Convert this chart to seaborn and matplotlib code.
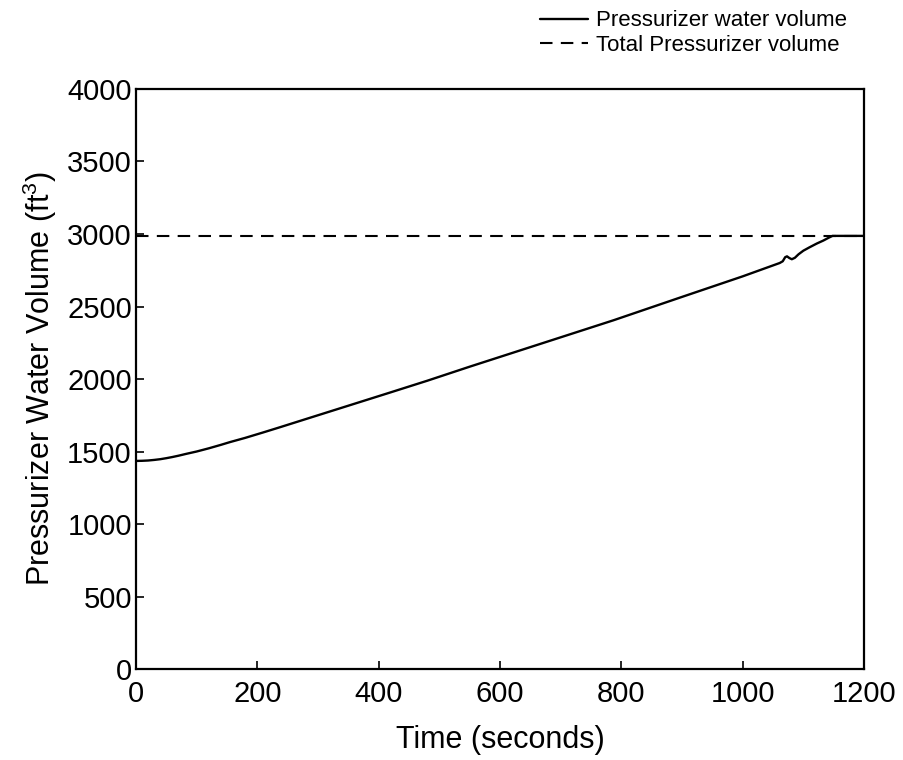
import matplotlib
matplotlib.use("Agg")
import matplotlib.pyplot as plt
import seaborn as sns
import pandas as pd

time_s = [0, 10, 20, 30, 40, 50, 60, 70, 83, 100, 120, 140, 155, 180, 210, 237, 287,
          350, 419, 480, 550, 650, 787, 897, 1000, 1061, 1066, 1070, 1073, 1077, 1081,
          1086, 1092, 1100, 1110, 1122, 1133, 1142, 1148, 1200]
water_volume = [1435, 1436, 1438, 1442, 1447, 1454, 1462, 1471, 1484, 1500, 1522, 1546,
                1565, 1594, 1632, 1667, 1733, 1816, 1907, 1988, 2085, 2220, 2405, 2562,
                2708, 2800, 2812, 2840, 2846, 2834, 2826, 2836, 2860, 2885, 2908, 2934,
                2955, 2975, 2987, 2987]
total_time = [0, 1200]
total_volume = [2987, 2987]

sns.set_theme(style="white")
plt.rcParams["font.family"] = ["Liberation Sans", "DejaVu Sans"]
plt.rcParams["mathtext.fontset"] = "custom"
plt.rcParams["mathtext.rm"] = "Liberation Sans"
plt.rcParams["mathtext.it"] = "Liberation Sans"
plt.rcParams["text.color"] = "black"
plt.rcParams["axes.labelcolor"] = "black"

fig = plt.figure(figsize=(9.04, 7.6), dpi=100)
ax = fig.add_axes([0.1504, 0.1197, 0.8054, 0.7632])

df1 = pd.DataFrame({"t": time_s, "v": water_volume})
df2 = pd.DataFrame({"t": total_time, "v": total_volume})
sns.lineplot(data=df1, x="t", y="v", ax=ax, color="black", linewidth=1.7,
             label="Pressurizer water volume")
sns.lineplot(data=df2, x="t", y="v", ax=ax, color="black", linewidth=1.5,
             linestyle=(0, (6, 4)), label="Total Pressurizer volume")

ax.set_xlim(0, 1200)
ax.set_ylim(0, 4000)
ax.set_xticks(range(0, 1201, 200))
ax.set_yticks(range(0, 4001, 500))
ax.tick_params(axis="both", direction="in", length=6, width=1.2, labelsize=21,
               colors="black", top=False, right=False, left=True, bottom=True)
ax.tick_params(axis="x", pad=8)
ax.tick_params(axis="y", pad=3)
for s in ax.spines.values():
    s.set_color("black")
    s.set_linewidth(1.6)
ax.set_xlabel("Time (seconds)", fontsize=22, labelpad=12)
ax.set_ylabel(r"Pressurizer Water Volume (ft$^3$)", fontsize=22, labelpad=6)

leg = ax.legend(loc="upper right", bbox_to_anchor=(0.952, 1.004), bbox_transform=fig.transFigure,
                frameon=False, fontsize=16, handlelength=2.2, handletextpad=0.35,
                labelspacing=0.15, borderaxespad=0.2)

fig.savefig("out.png", dpi=100)
